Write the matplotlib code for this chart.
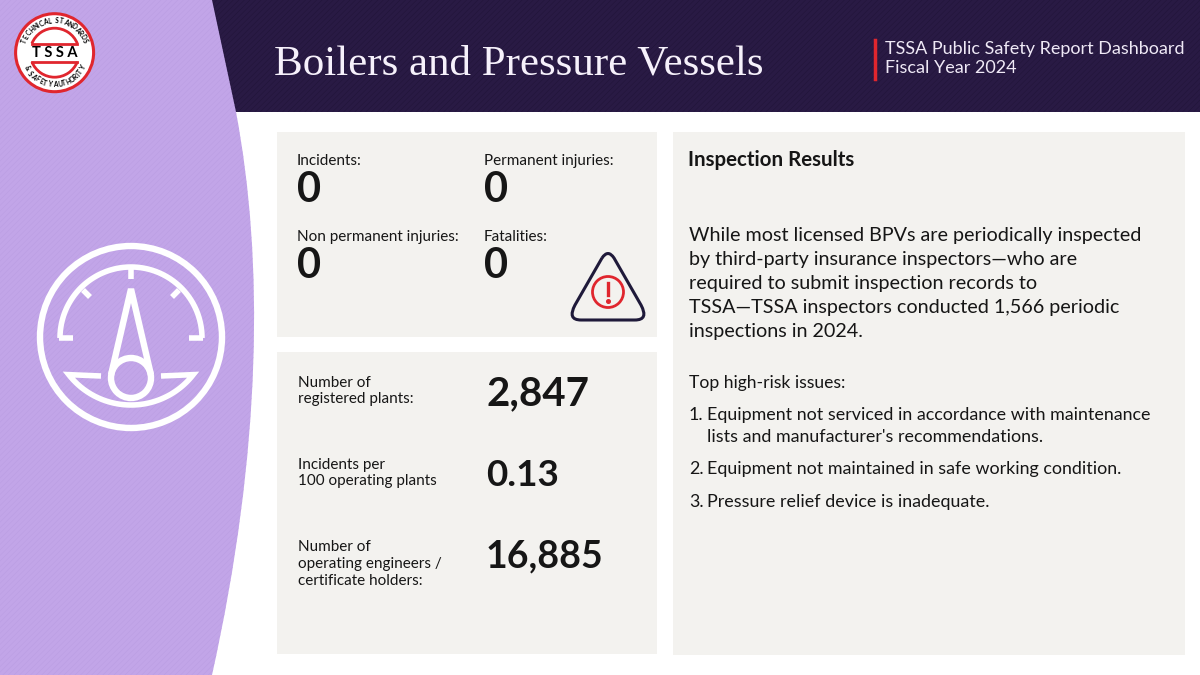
import numpy as np
import matplotlib
matplotlib.use("Agg")
import matplotlib.pyplot as plt
from matplotlib.patches import Rectangle, Circle, Arc, PathPatch
from matplotlib.path import Path

# top panel
incident_labels = ["Incidents:", "Permanent injuries:", "Non permanent injuries:", "Fatalities:"]
incident_values = [0, 0, 0, 0]

# lower left panel
stat_labels = ["Number of\nregistered plants:", "Incidents per\n100 operating plants",
               "Number of\noperating engineers /\ncertificate holders:"]
stat_values = ["2,847", "0.13", "16,885"]

title = "Boilers and Pressure Vessels"
header_lines = ["TSSA Public Safety Report Dashboard", "Fiscal Year 2024"]
panel_title = "Inspection Results"
body_lines = ["While most licensed BPVs are periodically inspected",
              "by third-party insurance inspectors\u2014who are",
              "required to submit inspection records to",
              "TSSA\u2014TSSA inspectors conducted 1,566 periodic",
              "inspections in 2024."]
issues_title = "Top high-risk issues:"
issue_numbers = ["1.", "", "2.", "3."]
issue_lines = ["Equipment not serviced in accordance with maintenance",
               "lists and manufacturer's recommendations.",
               "Equipment not maintained in safe working condition.",
               "Pressure relief device is inadequate."]

PURPLE = "#c2a5e8"
DARK = "#291a44"
PANEL = "#f3f2ef"
RED = "#e0262e"
INK = "#161616"
SANS = "Lato"

plt.rcParams["hatch.linewidth"] = 0.3

fig = plt.figure(figsize=(12, 6.75), dpi=100, facecolor="white")
ax = fig.add_axes([0, 0, 1, 1])
ax.set_xlim(0, 1200)
ax.set_ylim(675, 0)
ax.axis("off")

# header band and purple side
ax.add_patch(Rectangle((200, 0), 1000, 112, fc=DARK, ec="#1f1336", lw=0, hatch="//////", zorder=1))
edge = Path([(0, 0), (212, 0), (236, 112), (264, 260), (262, 450), (212, 675), (0, 675), (0, 0)],
            [Path.MOVETO, Path.LINETO, Path.LINETO, Path.CURVE4, Path.CURVE4, Path.CURVE4, Path.LINETO, Path.CLOSEPOLY])
ax.add_patch(PathPatch(edge, fc=PURPLE, ec="#b99ce1", lw=0, hatch="//////", zorder=2))


def ring_text(text, start, stop, flip):
    # narrow letters get less of the ring
    widths = [0.45 if c in "I " else 1.0 for c in text]
    pos = np.cumsum(widths) - np.array(widths) / 2
    angs = start + (stop - start) * pos / sum(widths)
    for ch, a in zip(text, angs):
        x = 54.6 + 32 * np.cos(np.radians(a))
        y = 52.7 - 32 * np.sin(np.radians(a))
        rot = a + 90 if flip else a - 90
        ax.text(x, y, ch, ha="center", va="center", rotation=rot, fontsize=4.7, fontweight="bold",
                color="black", family=SANS, zorder=5)


# logo
ax.add_patch(Circle((54.6, 52.7), 39, fc="white", ec=RED, lw=2.2, zorder=3))
ax.add_patch(Arc((54.6, 52.7), 49, 49, theta1=22, theta2=158, ec=RED, lw=2, zorder=4))
ax.add_patch(Arc((54.6, 52.7), 49, 49, theta1=202, theta2=338, ec=RED, lw=2, zorder=4))
ax.plot([32, 77], [43.5, 43.5], color=RED, lw=2, zorder=4)
ax.plot([32, 77], [61.5, 61.5], color=RED, lw=2, zorder=4)
ax.text(54.6, 53, "T S S A", ha="center", va="center", fontsize=10.5, fontweight="bold", color="black",
        family=SANS, zorder=5)
ring_text("TECHNICAL STANDARDS", 163, 17, False)
ring_text("& SAFETY AUTHORITY", 205, 335, True)

# gauge icon
cx, cy = 131, 337
GAUGE_LW = 4.6
ax.add_patch(Circle((cx, cy), 91, fc="none", ec="white", lw=GAUGE_LW, zorder=3))
t = np.radians(np.linspace(180, 360, 100))
ax.plot(cx + 71 * np.cos(t), 338 + 71 * np.sin(t), color="white", lw=4, zorder=3, solid_capstyle="butt")
for x0, y0, x1, y1 in [(59, 338, 73, 338), (189, 338, 203, 338), (131, 267, 131, 279),
                       (83, 290, 90, 297), (179, 290, 172, 297)]:
    ax.plot([x0, x1], [y0, y1], color="white", lw=4, solid_capstyle="butt", zorder=3)
ax.add_patch(Circle((131, 378), 20, fc="none", ec="white", lw=GAUGE_LW, zorder=3))
ax.plot([111, 131, 151], [375, 289, 375], color="white", lw=GAUGE_LW, solid_joinstyle="bevel",
        solid_capstyle="butt", zorder=3)
t = np.radians(np.linspace(142, 38, 80))
bowl_x = np.r_[101, cx + 79 * np.cos(t), 161]
bowl_y = np.r_[376, 326 + 79 * np.sin(t), 376]
ax.plot(bowl_x, bowl_y, color="white", lw=4, solid_joinstyle="miter", solid_capstyle="butt", zorder=3)

# panels
for x, y, w, h in [(277, 132, 380, 205), (277, 352, 380, 302), (673, 132, 512, 523)]:
    ax.add_patch(Rectangle((x, y), w, h, fc=PANEL, ec="none", zorder=3))

# header text
ax.text(274, 64, title, ha="left", va="center", fontsize=31, color="#f6f1fb", family="Liberation Serif", zorder=5)
ax.plot([875, 875], [40, 79], color=RED, lw=2.5, zorder=5)
for line, y in zip(header_lines, [49, 68]):
    ax.text(885, y, line, ha="left", va="center", fontsize=13, color="#efe9f6", family=SANS, zorder=5)

# incident counts
for label, value, x, y in zip(incident_labels, incident_values, [297, 484, 297, 484], [161, 161, 237, 237]):
    ax.text(x, y, label, ha="left", va="center", fontsize=11, color=INK, family=SANS, zorder=5)
    ax.text(x, y + 29, str(value), ha="left", va="center", fontsize=30, fontweight="bold", color=INK,
            family=SANS, zorder=5)

# warning sign
tri = Path([(602, 258), (575, 305), (567, 320), (581, 320), (635, 320), (649, 320), (641, 305), (614, 258),
            (608, 249), (602, 258)],
           [Path.MOVETO, Path.LINETO, Path.CURVE3, Path.CURVE3, Path.LINETO, Path.CURVE3, Path.CURVE3,
            Path.LINETO, Path.CURVE3, Path.CURVE3])
ax.add_patch(PathPatch(tri, fc="none", ec="#1f1a3a", lw=2.2, zorder=5))
ax.add_patch(Circle((608, 292), 15.5, fc="none", ec=RED, lw=2, zorder=5))
ax.plot([608, 608], [283, 295], color=RED, lw=2.4, zorder=5)
ax.plot([608], [301], "o", color=RED, ms=2.6, zorder=5)

# stats
for label, value, y, ly, size in zip(stat_labels, stat_values, [394, 475, 556], [391, 473, 564], [29, 26.5, 27]):
    ax.text(298, ly, label, ha="left", va="center", fontsize=11, color=INK, family=SANS, linespacing=1.25, zorder=5)
    ax.text(486, y, value, ha="left", va="center", fontsize=size, fontweight="bold", color=INK, family=SANS, zorder=5)

# inspection panel
ax.text(688, 160, panel_title, ha="left", va="center", fontsize=14.8, fontweight="bold", color=INK, family=SANS, zorder=5)
for line, y in zip(body_lines, [235, 259, 284, 308, 332]):
    ax.text(689, y, line, ha="left", va="center", fontsize=14.2, color=INK, family=SANS, zorder=5)
ax.text(689, 383, issues_title, ha="left", va="center", fontsize=12.6, color=INK, family=SANS, zorder=5)
for num, text, y in zip(issue_numbers, issue_lines, [415, 437, 469, 502]):
    ax.text(689, y, num, ha="left", va="center", fontsize=12.9, color=INK, family=SANS, zorder=5)
    ax.text(707, y, text, ha="left", va="center", fontsize=12.9, color=INK, family=SANS, zorder=5)

fig.savefig("out.png", dpi=100)
